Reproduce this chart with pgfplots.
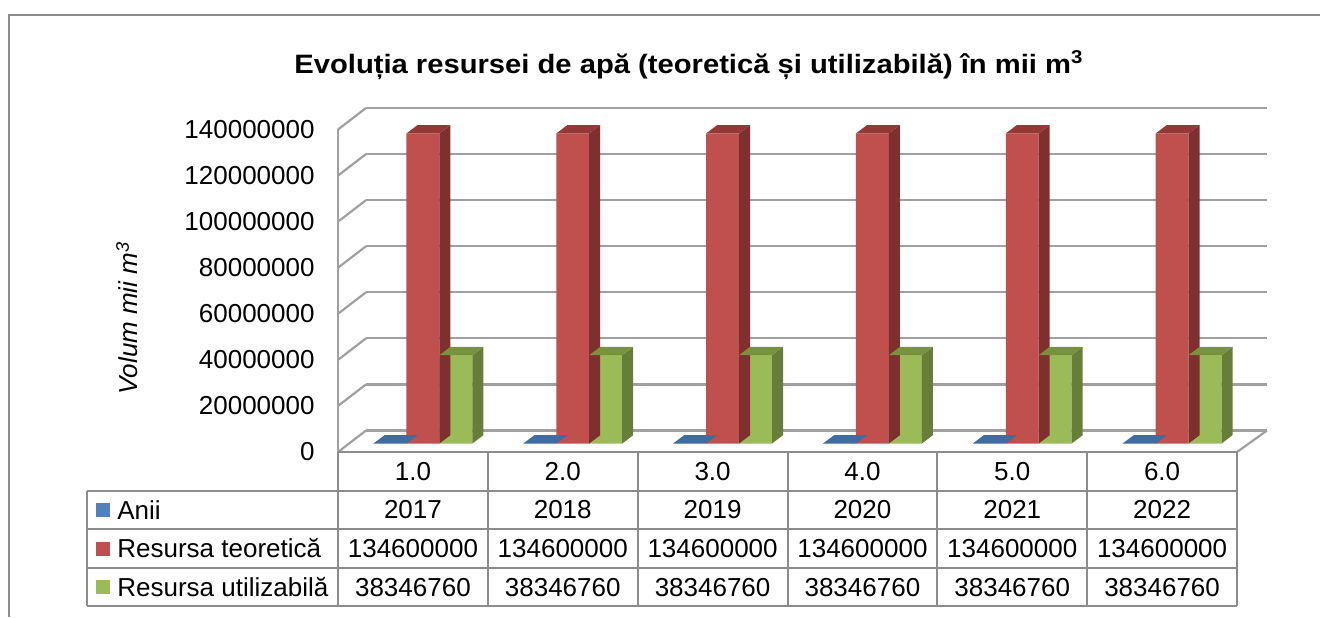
\documentclass[border=0pt]{standalone}
\usepackage{fontspec}
\setmainfont{Liberation Sans}
\usepackage{pgfplots}
\usepackage{pgfplotstable}
\pgfplotsset{compat=1.18}

\definecolor{cB}{HTML}{4F81BD}
\definecolor{cBtop}{HTML}{3F6CA3}
\definecolor{cBside}{HTML}{345A88}
\definecolor{cR}{HTML}{C0504D}
\definecolor{cRtop}{HTML}{953836}
\definecolor{cRside}{HTML}{7F2F2E}
\definecolor{cG}{HTML}{9BBB59}
\definecolor{cGtop}{HTML}{77933C}
\definecolor{cGside}{HTML}{677E39}
\definecolor{gridc}{HTML}{A0A0A0}
\definecolor{tabc}{HTML}{8C8C8C}

\pgfplotstableread{
x anii teo util
1 2017 134600000 38346760
2 2018 134600000 38346760
3 2019 134600000 38346760
4 2020 134600000 38346760
5 2021 134600000 38346760
6 2022 134600000 38346760
}\data

\newdimen\depL \newdimen\depR \newdimen\depH
\newcommand\depthfaces[3]{%
  \begingroup
    \pgfkeys{/pgf/fpu=true,/pgf/fpu/output format=fixed}%
    \pgfmathparse{\hM*161.25/140000000}%
    \global\depH=\pgfmathresult pt\relax
  \endgroup
  \depL=\dimexpr#1pt-8.24pt\relax
  \depR=\dimexpr#1pt+8.24pt\relax
  \pgfpathmoveto{\pgfqpoint{\depR}{0pt}}%
  \pgfpathlineto{\pgfqpoint{\dimexpr\depR+5.5pt\relax}{4.15pt}}%
  \pgfpathlineto{\pgfqpoint{\dimexpr\depR+5.5pt\relax}{\dimexpr4.15pt-\depH\relax}}%
  \pgfpathlineto{\pgfqpoint{\depR}{-\depH}}%
  \pgfpathclose
  \pgfsetfillcolor{#2}\pgfusepath{fill}%
  \pgfpathmoveto{\pgfqpoint{\depL}{0pt}}%
  \pgfpathlineto{\pgfqpoint{\depR}{0pt}}%
  \pgfpathlineto{\pgfqpoint{\dimexpr\depR+5.5pt\relax}{4.15pt}}%
  \pgfpathlineto{\pgfqpoint{\dimexpr\depL+5.5pt\relax}{4.15pt}}%
  \pgfpathclose
  \pgfsetfillcolor{#3}\pgfusepath{fill}%
}
\pgfdeclareplotmark{depB}{\depthfaces{-16.48}{cBside}{cBtop}}
\pgfdeclareplotmark{depR}{\depthfaces{0}{cRside}{cRtop}}
\pgfdeclareplotmark{depG}{\depthfaces{16.48}{cGside}{cGtop}}

\newcommand\fs{\fontsize{13}{15.6}\selectfont}

\begin{document}
\begin{tikzpicture}
\useasboundingbox (0,0) rectangle (660pt,308.5pt);

% back wall grid
\begin{axis}[at={(183pt,93.25pt)}, anchor=south west, scale only axis,
  width=450.5pt, height=161.25pt, xmin=0.5, xmax=6.5, ymin=0, ymax=140000000,
  scaled y ticks=false,
  axis line style={draw=none}, major tick length=0pt,
  xtick=\empty, ytick={0,20000000,40000000,60000000,80000000,100000000,120000000,140000000},
  yticklabels={}, ymajorgrids, grid style={gridc, line width=1.1pt}]
\end{axis}

% decorations in pixel coordinates
\begin{scope}[x=0.5pt, y=-0.5pt, shift={(0pt,308.5pt)}]
  \draw[tabc, line width=1pt] (9,617) -- (9,15) -- (1320,15);
  \foreach \k in {0,...,7}{
    \draw[gridc, line width=1.1pt] (338,{452-\k*46.07}) -- (366,{430.5-\k*46.07});
  }
  \draw[gridc, line width=1.1pt] (338,452) -- (338,129.5);
  \draw[gridc, line width=1.1pt] (1237,452) -- (1267,430.5);
  % table
  \draw[tabc, line width=1pt] (338,452) -- (1237,452);
  \foreach \yy in {490.7,529.3,567.7,606.3}{
    \draw[tabc, line width=1pt] (87,\yy) -- (1237,\yy);
  }
  \draw[tabc, line width=1pt] (87,490.7) -- (87,606.3);
  \foreach \xx in {338,487.8,637.7,787.5,937.3,1087.2,1237}{
    \draw[tabc, line width=1pt] (\xx,452) -- (\xx,606.3);
  }
  \fill[cB] (96,503) rectangle (110,517);
  \fill[cR] (96,541.6) rectangle (110,555.6);
  \fill[cG] (96,580.2) rectangle (110,594.2);
  \node[anchor=base west, inner sep=0pt, font=\fs] at (117,519) {Anii};
  \node[anchor=base west, inner sep=0pt, font=\fs] at (117,557.6) {Resursa teoretică};
  \node[anchor=base west, inner sep=0pt, font=\fs] at (117,596.3) {Resursa utilizabilă};
  % title and y label
  \node[anchor=base, inner sep=0pt, xscale=1.097, font=\fontsize{13.3}{16}\selectfont\bfseries] at (689,73.5)
    {Evoluția resursei de apă (teoretică și utilizabilă) în mii m\textsuperscript{3}};
  \node[rotate=90, inner sep=0pt, font=\fs\itshape] at (127,318) {Volum mii m\textsuperscript{3}};
\end{scope}

% front plane: tick labels and table contents
\begin{axis}[at={(169pt,82.5pt)}, anchor=south west, scale only axis,
  width=449.5pt, height=161.25pt, xmin=0.5, xmax=6.5, ymin=0, ymax=140000000,
  scaled y ticks=false,
  axis line style={draw=none}, major tick length=0pt, tick style={draw=none},
  ytick={0,20000000,40000000,60000000,80000000,100000000,120000000,140000000},
  yticklabels={0,20000000,40000000,60000000,80000000,100000000,120000000,140000000},
  yticklabel style={font=\fs, anchor=east, inner sep=0pt, xshift=-11.5pt},
  xtick={1,2,3,4,5,6},
  xticklabels={{1.0\\2017\\134600000\\38346760},{2.0\\2018\\134600000\\38346760},
    {3.0\\2019\\134600000\\38346760},{4.0\\2020\\134600000\\38346760},
    {5.0\\2021\\134600000\\38346760},{6.0\\2022\\134600000\\38346760}},
  xticklabel style={font=\fontsize{13}{19.3}\selectfont, align=center, anchor=north,
    inner sep=0pt, yshift=-4.85pt}]
\end{axis}

% bar plane
\begin{axis}[at={(174pt,86.75pt)}, anchor=south west, scale only axis,
  width=449.5pt, height=161.25pt, xmin=0.5, xmax=6.5, ymin=0, ymax=140000000,
  scaled y ticks=false, hide axis, clip=false]
\addplot[ybar, bar width=0.22, bar shift=-0.22, fill=cB, draw=none] table[x=x,y=anii]{\data};
\addplot[only marks, mark=depB, visualization depends on={rawy \as \hM}] table[x=x,y=anii]{\data};
\addplot[ybar, bar width=0.22, bar shift=0, fill=cR, draw=none] table[x=x,y=teo]{\data};
\addplot[only marks, mark=depR, visualization depends on={rawy \as \hM}] table[x=x,y=teo]{\data};
\addplot[ybar, bar width=0.22, bar shift=0.22, fill=cG, draw=none] table[x=x,y=util]{\data};
\addplot[only marks, mark=depG, visualization depends on={rawy \as \hM}] table[x=x,y=util]{\data};
\end{axis}
\end{tikzpicture}
\end{document}
